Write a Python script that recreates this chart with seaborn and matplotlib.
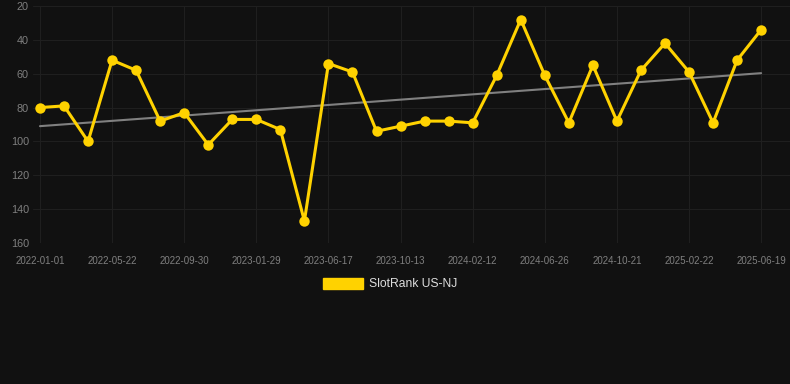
import numpy as np
import pandas as pd
import matplotlib
matplotlib.use("Agg")
import matplotlib.pyplot as plt
import seaborn as sns
from matplotlib.patches import Patch

# rank values (lower = better), one per snapshot
ranks = [80, 79, 100, 52, 58, 88, 83, 102, 87, 87, 93, 147, 54, 59, 94, 91,
         88, 88, 89, 61, 28, 61, 89, 55, 88, 58, 42, 59, 89, 52, 34]
tick_labels = ["2022-01-01", "2022-05-22", "2022-09-30", "2023-01-29", "2023-06-17",
               "2023-10-13", "2024-02-12", "2024-06-26", "2024-10-21", "2025-02-22",
               "2025-06-19"]
series_name = "SlotRank US-NJ"

bg = "#111111"
yellow = "#FFD200"
grid_c = "#1f1f1f"
text_c = "#7f7f7f"

df = pd.DataFrame({"idx": np.arange(len(ranks)), "rank": ranks})
slope, intercept = np.polyfit(df["idx"], df["rank"], 1)
df["trend"] = intercept + slope * df["idx"]

sns.set_style("dark")
plt.rcParams["font.family"] = ["Liberation Sans", "DejaVu Sans"]

fig = plt.figure(figsize=(7.9, 3.84), dpi=100, facecolor=bg)
ax = fig.add_axes([33 / 790, 141 / 384, 757 / 790, 237 / 384])
ax.set_facecolor(bg)

sns.lineplot(data=df, x="idx", y="trend", ax=ax, color="#808080", linewidth=1.5)
sns.lineplot(data=df, x="idx", y="rank", ax=ax, color=yellow, linewidth=2.2,
             marker="o", markersize=7.5, markeredgewidth=0)

ax.set_xlim(-0.29, 31.2)
ax.set_ylim(160, 20)
ax.set_yticks(range(20, 161, 20))
ax.set_xticks(range(0, len(ranks), 3))
ax.set_xticklabels(tick_labels)
ax.tick_params(axis="x", labelsize=7, labelcolor=text_c, color=grid_c,
               length=4.5, width=0.8, pad=5)
ax.tick_params(axis="y", labelsize=7.8, labelcolor=text_c, length=0, pad=3)
ax.grid(True, color=grid_c, linewidth=0.8)
ax.set_xlabel("")
ax.set_ylabel("")
for s in ax.spines.values():
    s.set_visible(False)

handle = Patch(facecolor=yellow, edgecolor=yellow)
fig.legend([handle], [series_name], loc="center", bbox_to_anchor=(390 / 790, 1 - 284 / 384),
           frameon=False, fontsize=8.7, labelcolor="#dddddd", handlelength=3.3,
           handleheight=1.0, handletextpad=0.5)

fig.savefig("out.png", dpi=100, facecolor=bg)
